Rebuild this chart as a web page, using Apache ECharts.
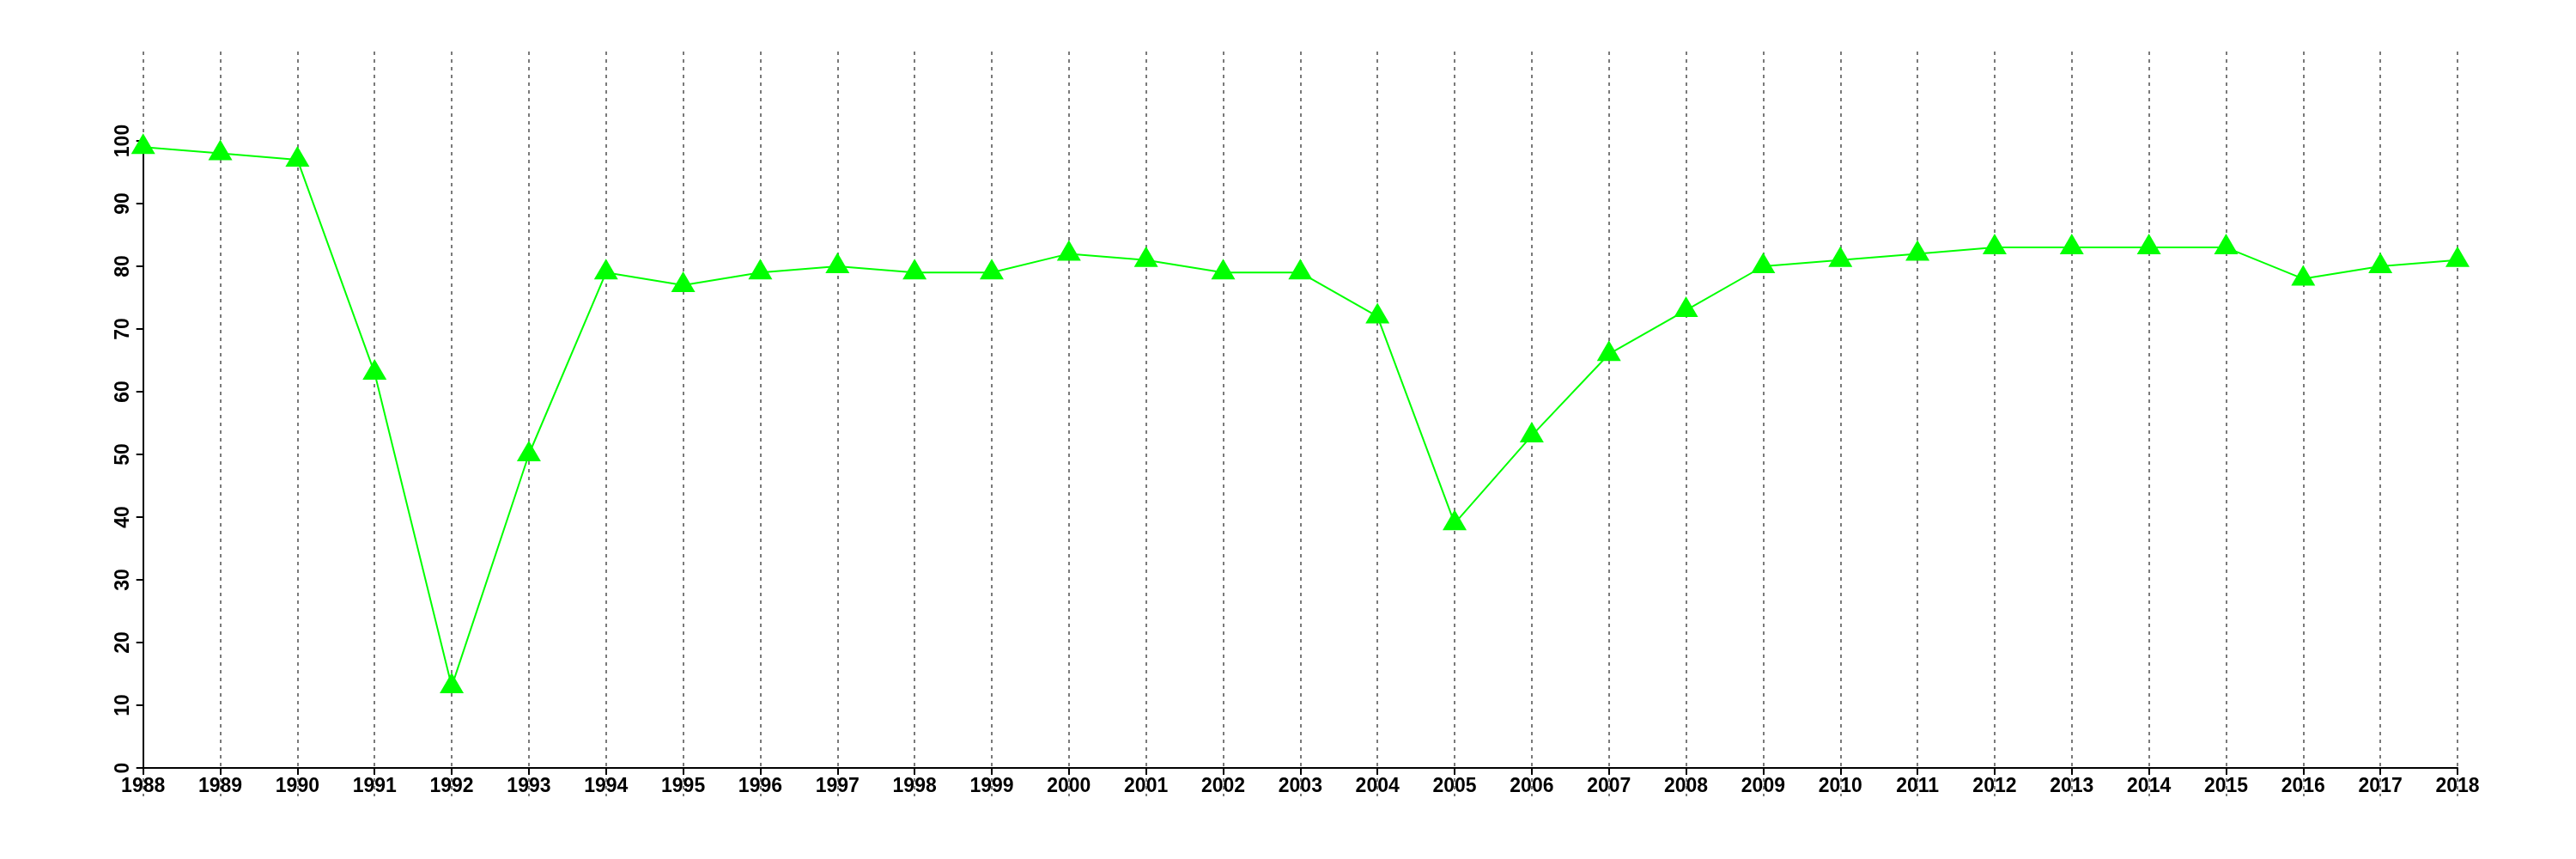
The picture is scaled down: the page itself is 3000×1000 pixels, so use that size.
<!DOCTYPE html>
<html>
<head>
<meta charset="utf-8">
<script src="https://cdn.jsdelivr.net/npm/echarts@6/dist/echarts.min.js"></script>
<style>
html,body{margin:0;padding:0;background:#fff;}
#c{width:3000px;height:1000px;}
</style>
</head>
<body>
<div id="c"></div>
<script>
const years = [1988,1989,1990,1991,1992,1993,1994,1995,1996,1997,1998,1999,2000,2001,2002,2003,2004,2005,2006,2007,2008,2009,2010,2011,2012,2013,2014,2015,2016,2017,2018];
const values = [99,98,97,63,13,50,79,77,79,80,79,79,82,81,79,79,72,39,53,66,73,80,81,82,83,83,83,83,78,80,81];
const yTicks = [0,10,20,30,40,50,60,70,80,90,100];

const seriesData = years.map((y, i) => [y, values[i]]);
const font = 'Liberation Sans, Arial, Helvetica, sans-serif';

const chart = echarts.init(document.getElementById('c'), null, {renderer: 'canvas'});
chart.setOption({
  backgroundColor: '#ffffff',
  animation: false,
  grid: [
    {left: 166.7, right: 138, top: 164, bottom: 106},
    {left: 166.7, right: 138, top: 60, bottom: 73}
  ],
  xAxis: [
    {
      gridIndex: 0, type: 'value', min: years[0], max: years[years.length - 1], interval: 1,
      axisLine: {show: true, onZero: false, lineStyle: {color: '#000', width: 2}},
      axisTick: {show: true, length: 8, lineStyle: {color: '#000', width: 2}},
      axisLabel: {show: true, margin: 10, color: '#000', fontSize: 23, fontWeight: 'bold', fontFamily: font,
        formatter: v => String(v)},
      splitLine: {show: false}
    },
    {
      gridIndex: 1, type: 'value', min: years[0], max: years[years.length - 1], interval: 1,
      axisLine: {show: false}, axisTick: {show: false}, axisLabel: {show: false},
      splitLine: {show: true, lineStyle: {color: '#7a7a7a', width: 2, type: [4, 5]}}
    }
  ],
  yAxis: [
    {
      gridIndex: 0, type: 'value', min: yTicks[0], max: yTicks[yTicks.length - 1], interval: 10,
      axisLine: {show: true, onZero: false, lineStyle: {color: '#000', width: 2}},
      axisTick: {show: true, length: 8, lineStyle: {color: '#000', width: 2}},
      axisLabel: {show: true, rotate: 90, margin: 12, color: '#000', fontSize: 23, fontWeight: 'bold', fontFamily: font},
      splitLine: {show: false}
    },
    {
      gridIndex: 1, type: 'value', min: 0, max: 1,
      axisLine: {show: false}, axisTick: {show: false}, axisLabel: {show: false}, splitLine: {show: false}
    }
  ],
  series: [
    {
      type: 'line', xAxisIndex: 0, yAxisIndex: 0,
      data: seriesData,
      symbol: 'triangle', symbolSize: [28, 24], symbolOffset: [0, -4],
      itemStyle: {color: '#00ff00'},
      lineStyle: {color: '#00ff00', width: 2},
      z: 5
    }
  ]
});
</script>
</body>
</html>
